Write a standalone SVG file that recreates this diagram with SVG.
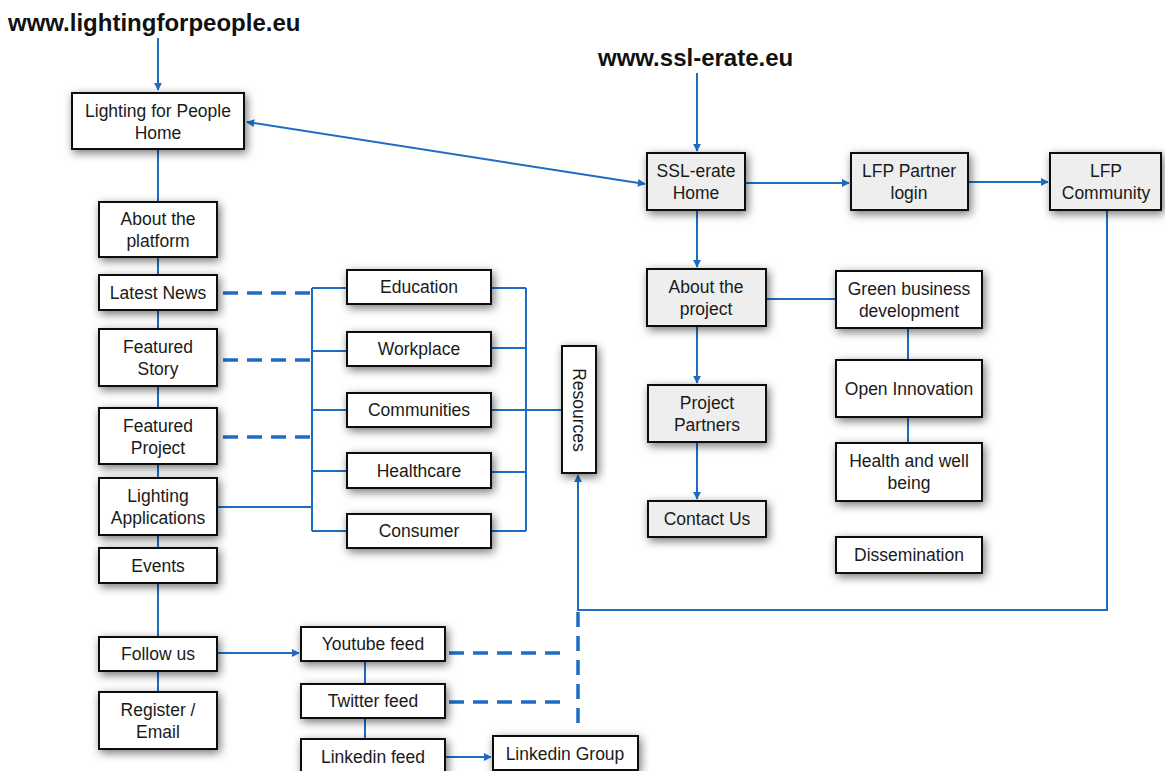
<svg xmlns="http://www.w3.org/2000/svg" width="1165" height="771" viewBox="0 0 1165 771">
<style>
.box{fill:#ffffff;stroke:#111111;stroke-width:2;filter:url(#sh)}
.gray{fill:#eeeeee}
.t{font-family:"Liberation Sans",Arial,sans-serif;font-size:17.5px;fill:#1a1a1a;text-anchor:middle}
.title{font-family:"Liberation Sans",Arial,sans-serif;font-size:24px;font-weight:bold;fill:#111111}
.ln{fill:none;stroke:#1f6cc4;stroke-width:2}
.arr{fill:none;stroke:#1f6cc4;stroke-width:2;marker-end:url(#ah)}
.dash{fill:none;stroke:#1f6cc4;stroke-width:3.5;stroke-dasharray:15 9}
</style>
<defs>
<filter id="sh" x="-30%" y="-40%" width="160%" height="190%">
<feDropShadow dx="2" dy="3" stdDeviation="5" flood-color="#000000" flood-opacity="0.55"/>
</filter>
<marker id="ah" viewBox="0 0 10 10" refX="9" refY="5" markerWidth="8" markerHeight="8" markerUnits="userSpaceOnUse" orient="auto-start-reverse">
<path d="M0,0 L10,5 L0,10 z" fill="#1f6cc4"/>
</marker>
</defs>
<rect width="1165" height="771" fill="#ffffff"/>
<text class="title" x="8" y="31">www.lightingforpeople.eu</text>
<text class="title" x="598" y="66">www.ssl-erate.eu</text>
<g id="connectors">
<path class="arr" d="M158,38 V90"/>
<path class="ln" d="M158,149 V692"/>
<path class="arr" d="M247,122 L645,184" marker-start="url(#ah)"/>
<path class="arr" d="M697,73 V151"/>
<path class="arr" d="M745,183 H849"/>
<path class="arr" d="M968,182 H1048"/>
<path class="arr" d="M697,210 V267"/>
<path class="ln" d="M766,299 H836"/>
<path class="arr" d="M697,326 V383"/>
<path class="arr" d="M697,442 V499"/>
<path class="ln" d="M908,328 V443"/>
<path class="arr" d="M1107,210 V610 H578 V475"/>
<path class="dash" d="M578,612 V723"/>
<path class="dash" d="M449,653 H562"/>
<path class="dash" d="M449,702 H562"/>
<path class="arr" d="M217,653 H299"/>
<path class="ln" d="M365,661 V739"/>
<path class="arr" d="M445,757 H491"/>
<path class="dash" d="M223,293 H312"/>
<path class="dash" d="M223,360 H312"/>
<path class="dash" d="M223,437 H312"/>
<path class="ln" d="M312,288 V531"/>
<path class="ln" d="M312,288 H347 M312,351 H347 M312,410 H347 M312,471 H347 M312,531 H347"/>
<path class="ln" d="M217,507 H312"/>
<path class="ln" d="M526,288 V531"/>
<path class="ln" d="M491,288 H526 M491,348 H526 M491,410 H526 M491,472 H526 M491,531 H526"/>
<path class="ln" d="M526,410 H562"/>
</g>
<g id="lfp_home"><rect class="box" x="72" y="93" width="172" height="56"/><text class="t" x="158" y="117">Lighting for People</text><text class="t" x="158" y="139">Home</text></g>
<g id="about_platform"><rect class="box" x="99" y="202" width="118" height="55"/><text class="t" x="158" y="225">About the</text><text class="t" x="158" y="247">platform</text></g>
<g id="latest_news"><rect class="box" x="99" y="275" width="118" height="35"/><text class="t" x="158" y="299">Latest News</text></g>
<g id="featured_story"><rect class="box" x="99" y="329" width="118" height="57"/><text class="t" x="158" y="353">Featured</text><text class="t" x="158" y="375">Story</text></g>
<g id="featured_project"><rect class="box" x="99" y="408" width="118" height="56"/><text class="t" x="158" y="432">Featured</text><text class="t" x="158" y="454">Project</text></g>
<g id="lighting_apps"><rect class="box" x="99" y="478" width="118" height="57"/><text class="t" x="158" y="502">Lighting</text><text class="t" x="158" y="524">Applications</text></g>
<g id="events"><rect class="box" x="99" y="548" width="118" height="35"/><text class="t" x="158" y="572">Events</text></g>
<g id="follow_us"><rect class="box" x="99" y="637" width="118" height="34"/><text class="t" x="158" y="660">Follow us</text></g>
<g id="register"><rect class="box" x="99" y="692" width="118" height="57"/><text class="t" x="158" y="716">Register /</text><text class="t" x="158" y="738">Email</text></g>
<g id="education"><rect class="box" x="347" y="270" width="144" height="34"/><text class="t" x="419" y="293">Education</text></g>
<g id="workplace"><rect class="box" x="347" y="332" width="144" height="34"/><text class="t" x="419" y="355">Workplace</text></g>
<g id="communities"><rect class="box" x="347" y="393" width="144" height="34"/><text class="t" x="419" y="416">Communities</text></g>
<g id="healthcare"><rect class="box" x="347" y="453" width="144" height="35"/><text class="t" x="419" y="477">Healthcare</text></g>
<g id="consumer"><rect class="box" x="347" y="514" width="144" height="34"/><text class="t" x="419" y="537">Consumer</text></g>
<g id="resources"><rect class="box" x="562" y="346" width="34" height="127"/><text class="t" x="0" y="0" transform="translate(573,410) rotate(90)">Resources</text></g>
<g id="youtube"><rect class="box" x="301" y="627" width="144" height="34"/><text class="t" x="373" y="650">Youtube feed</text></g>
<g id="twitter"><rect class="box" x="301" y="684" width="144" height="34"/><text class="t" x="373" y="707">Twitter feed</text></g>
<g id="linkedin_feed"><rect class="box" x="301" y="739" width="144" height="36"/><text class="t" x="373" y="763">Linkedin feed</text></g>
<g id="linkedin_group"><rect class="box" x="493" y="736" width="145" height="34"/><text class="t" x="565" y="760">Linkedin Group</text></g>
<g id="ssl_home"><rect class="box gray" x="647" y="153" width="98" height="57"/><text class="t" x="696" y="177">SSL-erate</text><text class="t" x="696" y="199">Home</text></g>
<g id="partner_login"><rect class="box gray" x="851" y="153" width="117" height="57"/><text class="t" x="909" y="177">LFP Partner</text><text class="t" x="909" y="199">login</text></g>
<g id="lfp_community"><rect class="box gray" x="1050" y="153" width="111" height="57"/><text class="t" x="1106" y="177">LFP</text><text class="t" x="1106" y="199">Community</text></g>
<g id="about_project"><rect class="box gray" x="647" y="269" width="119" height="57"/><text class="t" x="706" y="293">About the</text><text class="t" x="706" y="315">project</text></g>
<g id="project_partners"><rect class="box gray" x="648" y="385" width="118" height="57"/><text class="t" x="707" y="409">Project</text><text class="t" x="707" y="431">Partners</text></g>
<g id="contact_us"><rect class="box gray" x="648" y="501" width="118" height="36"/><text class="t" x="707" y="525">Contact Us</text></g>
<g id="green_business"><rect class="box" x="836" y="271" width="146" height="57"/><text class="t" x="909" y="295">Green business</text><text class="t" x="909" y="317">development</text></g>
<g id="open_innovation"><rect class="box" x="836" y="360" width="146" height="57"/><text class="t" x="909" y="395">Open Innovation</text></g>
<g id="health"><rect class="box" x="836" y="443" width="146" height="58"/><text class="t" x="909" y="467">Health and well</text><text class="t" x="909" y="489">being</text></g>
<g id="dissemination"><rect class="box" x="836" y="537" width="146" height="36"/><text class="t" x="909" y="561">Dissemination</text></g>
</svg>
